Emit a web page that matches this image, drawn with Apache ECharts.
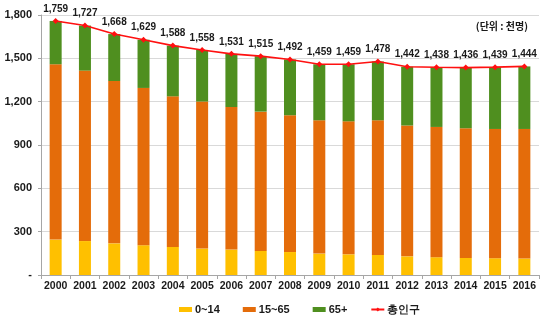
<!DOCTYPE html>
<html>
<head>
<meta charset="utf-8">
<script src="https://cdn.jsdelivr.net/npm/echarts@6/dist/echarts.min.js"></script>
<style>
  html, body { margin: 0; padding: 0; background: #fff; }
  #chart { width: 543px; height: 322px; }
</style>
</head>
<body>
<div id="chart"></div>
<script>
// Population by age group (thousand persons)
const years = ['2000','2001','2002','2003','2004','2005','2006','2007','2008',
               '2009','2010','2011','2012','2013','2014','2015','2016'];
const age0to14  = [245, 235, 219, 206, 194, 183, 176, 166, 159, 148, 143, 139, 129, 123, 118, 116, 114];
const age15to65 = [1214, 1180, 1124, 1089, 1043, 1018, 987, 965, 947, 923, 921, 932, 906, 902, 898, 895, 897];
const age65plus = [300, 312, 325, 334, 351, 357, 368, 384, 386, 388, 395, 407, 407, 413, 420, 428, 433];
const totalPop  = [1759, 1727, 1668, 1629, 1588, 1558, 1531, 1515, 1492, 1459, 1459, 1478, 1442, 1438, 1436, 1439, 1444];
const yTicks = { min: 0, max: 1800, interval: 300 };

const FONT = '"Liberation Sans", Arial, sans-serif';
const chart = echarts.init(document.getElementById('chart'), null, { renderer: 'canvas' });

const barCommon = { type: 'bar', stack: 'pop', barWidth: '41%' };

chart.setOption({
  animation: false,
  textStyle: { fontFamily: FONT },
  grid: { left: 41, right: 4, top: 15, bottom: 47, containLabel: false },
  xAxis: {
    type: 'category',
    data: years,
    boundaryGap: true,
    axisLine: { lineStyle: { color: '#a6a6a6', width: 1 } },
    axisTick: { show: true, interval: 0, length: 4, lineStyle: { color: '#a6a6a6' } },
    axisLabel: { interval: 0, color: '#1a1a1a', fontWeight: 'bold', fontSize: 10.5, margin: 6, fontFamily: FONT }
  },
  yAxis: {
    type: 'value',
    min: yTicks.min, max: yTicks.max, interval: yTicks.interval,
    axisLine: { show: true, lineStyle: { color: '#a6a6a6', width: 1 } },
    axisTick: { show: true, length: 3, lineStyle: { color: '#a6a6a6' } },
    splitLine: { lineStyle: { color: '#d9d9d9', width: 1 } },
    axisLabel: {
      color: '#1a1a1a', fontWeight: 'bold', fontSize: 11, margin: 9, fontFamily: FONT,
      formatter: v => v === 0 ? '-' : v.toLocaleString('en-US')
    }
  },
  legend: {
    left: 174, top: 299,
    itemWidth: 13, itemHeight: 5, itemGap: 23,
    textStyle: { color: '#1a1a1a', fontWeight: 'bold', fontSize: 11, fontFamily: FONT, padding: [0, 0, 0, -2] },
    data: [
      { name: '0~14', icon: 'rect' },
      { name: '15~65', icon: 'rect' },
      { name: '65+', icon: 'rect' },
      { name: '총인구' }
    ]
  },
  graphic: [{
    type: 'text', right: 15, top: 21,
    style: { text: '(단위 : 천명)', fill: '#1a1a1a', font: 'bold 10px "Noto Sans CJK KR", sans-serif' }
  }],
  series: [
    Object.assign({ name: '0~14', data: age0to14, itemStyle: { color: '#FFC000' } }, barCommon),
    Object.assign({ name: '15~65', data: age15to65, itemStyle: { color: '#E46C0A' } }, barCommon),
    Object.assign({ name: '65+', data: age65plus, itemStyle: { color: '#4F8F1F' } }, barCommon),
    {
      name: '총인구', type: 'line', data: totalPop,
      symbol: 'diamond', symbolSize: 6,
      lineStyle: { color: '#FF1010', width: 1.6 },
      itemStyle: { color: '#FF1010' },
      label: {
        show: true, position: 'top', distance: 4,
        color: '#1a1a1a', fontWeight: 'bold', fontSize: 10, fontFamily: FONT,
        formatter: p => p.value.toLocaleString('en-US')
      },
      z: 5
    }
  ]
});
</script>
</body>
</html>
